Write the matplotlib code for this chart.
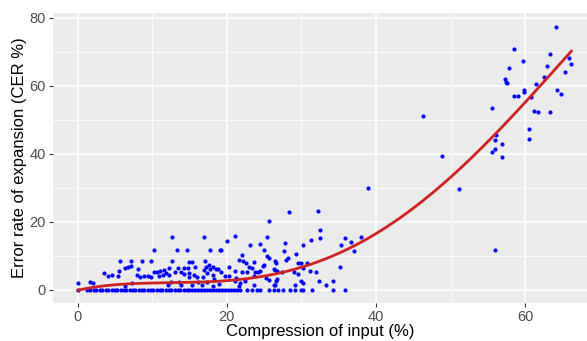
import numpy as np
import matplotlib.pyplot as plt

plt.rcParams['font.family'] = ['Liberation Sans', 'DejaVu Sans']

# points at zero error
zero_x = [0.0, 1.3, 1.7, 2.2, 2.5, 3.0, 3.3, 3.8, 4.1, 4.6, 5.0, 5.3, 5.8, 6.2, 6.5, 7.0,
          7.4, 7.7, 8.2, 8.6, 8.9, 9.4, 9.8, 10.1, 10.6, 11.0, 11.3, 11.8, 12.2, 12.5,
          13.0, 13.4, 13.7, 14.2, 14.6, 14.9, 15.4, 15.8, 16.1, 16.6, 17.0, 17.3, 17.8,
          18.2, 18.5, 19.0, 19.4, 19.7, 20.2, 20.6, 21.0, 21.4, 21.8, 22.7, 23.4, 24.1,
          24.5, 25.6, 26.3, 26.9, 27.6, 28.5, 29.2, 29.9, 30.2, 31.4, 34.3, 35.9]

# remaining points (compression %, CER %)
pts_x = [0.0, 1.6, 2.1, 3.5, 4.1, 4.6, 5.4, 5.5, 5.7, 6.3, 6.4, 6.7, 7.1, 7.1, 7.3, 7.9, 8.1, 8.3,
         8.6, 8.9, 9.4, 9.9, 9.9, 10.2, 10.3, 10.7, 10.9, 11.1, 11.4, 11.6, 11.9, 12.1, 12.2,
         12.3, 12.5, 12.7, 12.7, 13.0, 13.3, 13.5, 13.6, 13.8, 13.9, 14.2, 14.3, 14.7, 14.8,
         14.9, 15.0, 15.0, 15.4, 15.4, 15.6, 15.7, 16.0, 16.2, 16.7, 16.8, 16.9, 16.9, 17.1,
         17.2, 17.3, 17.4, 17.6, 17.7, 17.8, 18.1, 18.2, 18.2, 18.3, 18.5, 18.8, 19.0, 19.1,
         19.2, 19.2, 19.7, 20.0, 20.3, 20.3, 21.1, 21.1, 21.1, 21.2, 21.6, 21.7, 21.8, 22.1,
         22.1, 22.2, 22.5, 22.6, 22.7, 23.0, 23.1, 23.4, 23.6, 23.7, 23.7, 23.8, 24.2, 24.4,
         24.5, 24.9, 25.0, 25.0, 25.3, 25.4, 25.4, 25.6, 25.7, 25.7, 26.3, 26.3, 26.5, 26.5,
         26.5, 26.6, 26.6, 26.7, 26.7, 27.4, 27.7, 27.8, 27.9, 28.2, 28.4, 29.0, 29.2, 29.3,
         29.5, 29.6, 29.9, 30.0, 30.2, 30.2, 30.2, 30.7, 31.2, 31.3, 32.0, 32.2, 32.4, 32.5,
         32.5, 33.3, 34.3, 35.2, 35.3, 35.8, 36.6, 37.1, 38.0, 38.9, 46.3, 48.8, 51.2, 55.5,
         55.5, 55.9, 56.0, 56.0, 56.1, 56.9, 56.9, 57.3, 57.5, 57.6, 57.8, 58.5, 58.5, 59.0,
         59.7, 59.9, 59.9, 60.5, 60.5, 60.8, 61.2, 61.5, 61.7, 62.5, 62.9, 63.3, 63.3, 64.1,
         64.3, 64.8, 65.3, 65.9, 66.2]
pts_y = [1.9, 2.4, 1.9, 5.0, 3.9, 4.4, 4.0, 5.4, 8.4, 1.0, 6.5, 6.8, 8.4, 7.0, 2.1, 4.2, 6.0, 3.7,
         8.4, 3.9, 3.9, 8.4, 3.7, 5.1, 11.7, 5.2, 3.9, 5.6, 4.3, 5.7, 4.9, 1.3, 6.5,
         4.2, 2.2, 8.4, 15.4, 5.3, 11.7, 6.5, 2.2, 5.2, 1.3, 6.5, 4.6, 11.7, 6.4,
         3.7, 4.8, 8.3, 8.1, 1.3, 4.4, 6.8, 3.7, 2.2, 1.3, 3.7, 15.4, 5.7, 8.5,
         6.8, 5.0, 2.2, 7.2, 11.7, 6.0, 4.2, 6.6, 1.2, 3.2, 6.2, 6.2, 1.8, 11.7,
         5.2, 11.6, 4.0, 14.2, 6.7, 4.0, 15.7, 5.6, 2.5, 3.4, 8.8, 1.2, 2.1, 10.1,
         5.3, 8.6, 2.7, 7.8, 5.1, 6.7, 13.1, 6.5, 8.2, 4.1, 1.5, 5.1, 5.3, 13.4,
         5.5, 6.9, 7.2, 11.6, 3.4, 15.4, 9.9, 9.2, 20.1, 3.0, 6.0, 1.5, 8.5, 5.7,
         1.3, 8.0, 2.7, 5.4, 3.1, 5.1, 11.3, 13.7, 8.8, 9.2, 22.9, 5.3, 1.3, 10.5,
         4.5, 8.0, 8.0, 2.5, 13.1, 6.5, 1.9, 8.0, 5.5, 14.5, 5.2, 23.3, 2.7, 17.5,
         15.3, 1.3, 2.7, 6.7, 13.1, 15.3, 14.0, 11.4, 15.4, 29.9, 51.2, 39.3, 29.6, 53.4,
         40.5, 11.7, 41.3, 44.0, 45.5, 43.0, 38.9, 61.9, 61.2, 60.9, 65.1, 70.8, 56.9, 56.9,
         67.2, 58.8, 58.3, 47.3, 44.2, 56.7, 52.5, 60.5, 52.3, 62.5, 65.8, 69.2, 52.2, 77.4,
         58.8, 57.7, 63.9, 68.2, 66.3]

# smooth trend
curve_x = [0, 6.7, 13.4, 20.0, 24.5, 29.0, 33.4, 36.6, 40.0, 48.6, 56.4, 59.3, 66.2]
curve_y = [0.0, 1.3, 2.2, 3.0, 4.2, 5.7, 8.6, 12.5, 16.5, 30.7, 47.1, 52.8, 70.3]

fig = plt.figure(figsize=(5.87, 3.41), dpi=100)
ax = fig.add_axes([53 / 587, 1 - 303 / 341, 534 / 587, 290 / 341])
ax.set_facecolor('#EBEBEB')

ax.scatter(zero_x, [0] * len(zero_x), s=9, color='blue', lw=0, zorder=3)
ax.scatter(pts_x, pts_y, s=9, color='blue', lw=0, zorder=3)

coef = np.polyfit(curve_x, curve_y, 4)
xs = np.linspace(0, max(pts_x), 200)
ax.plot(xs, np.polyval(coef, xs), color='#CC2222', lw=2.0, zorder=4)

ax.set_xlim(-3.3, 68.3)
ax.set_ylim(-3.9, 81.4)
ax.set_xticks([0, 20, 40, 60])
ax.set_yticks([0, 20, 40, 60, 80])
ax.set_xticks([10, 30, 50], minor=True)
ax.set_yticks([10, 30, 50, 70], minor=True)
ax.grid(which='major', color='white', lw=1.1)
ax.grid(which='minor', color='white', lw=0.55)
ax.set_axisbelow(True)
for s in ax.spines.values():
    s.set_visible(False)
ax.tick_params(which='major', length=3, color='#333333', labelsize=10.5, labelcolor='#4D4D4D', pad=2)
ax.tick_params(which='minor', length=0)

fig.text(320 / 587, 5 / 341, 'Compression of input (%)', fontsize=12, ha='center', va='baseline')
ax.set_ylabel('Error rate of expansion (CER %)', fontsize=12, labelpad=2)

fig.savefig('out.png', dpi=100)
